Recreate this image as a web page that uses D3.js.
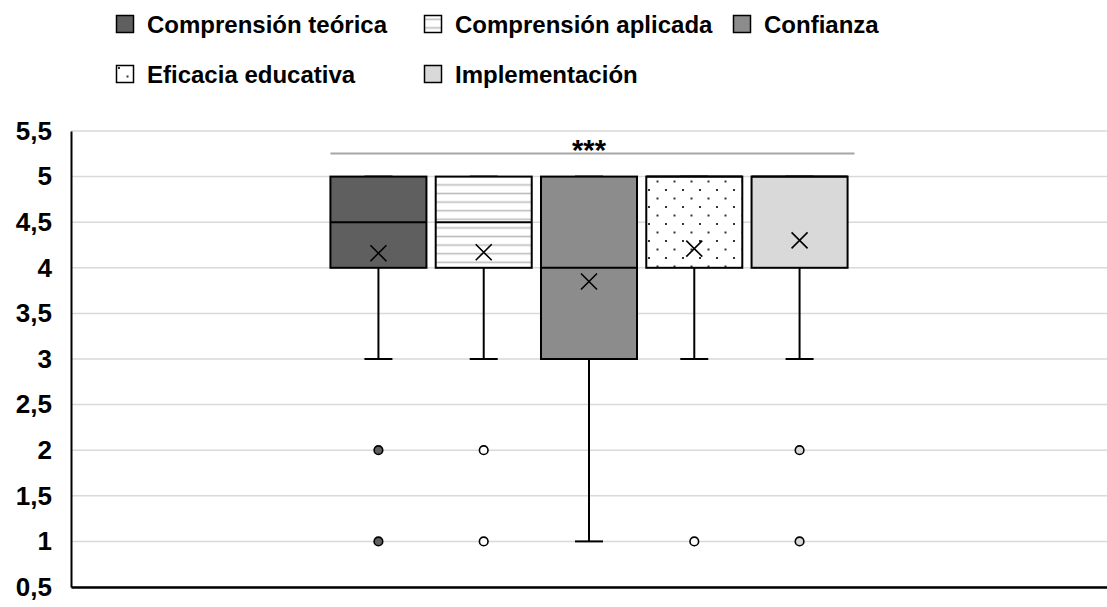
<!DOCTYPE html>
<html>
<head>
<meta charset="utf-8">
<script src="https://cdn.jsdelivr.net/npm/d3@7"></script>
<style>
  html, body { margin: 0; padding: 0; background: #fff; }
  svg { display: block; font-family: "Liberation Sans", Arial, sans-serif; }
</style>
</head>
<body>
<svg id="chart" width="1107" height="607"></svg>
<script>
// ---- data ----
const groups = ["Grupo"];
const series = ["Comprensión teórica", "Comprensión aplicada", "Confianza", "Eficacia educativa", "Implementación"];
const q1 = [4, 4, 3, 4, 4];
const medians = [4.5, 4.5, 4, 5, 5];
const q3 = [5, 5, 5, 5, 5];
const whiskerLow = [3, 3, 1, 3, 3];
const whiskerHigh = [5, 5, 5, 5, 5];
const means = [4.16, 4.17, 3.85, 4.21, 4.30];
const outliers = [[2, 1], [2, 1], [], [1], [2, 1]];
const yTicks = [0.5, 1, 1.5, 2, 2.5, 3, 3.5, 4, 4.5, 5, 5.5];
const yTickLabels = ["0,5", "1", "1,5", "2", "2,5", "3", "3,5", "4", "4,5", "5", "5,5"];
const significanceLabel = "***";

// ---- styles ----
const fills = ["#5f5f5f", "url(#stripes)", "#8c8c8c", "url(#dots)", "#d9d9d9"];
const outlierFills = ["#5f5f5f", "#ffffff", "#8c8c8c", "#ffffff", "#d9d9d9"];

const svg = d3.select("#chart");
const mLeft = 71, mRight = 1107, mTop = 131, mBottom = 587;

// patterns
const defs = svg.append("defs");
const pS = defs.append("pattern").attr("id", "stripes").attr("patternUnits", "userSpaceOnUse")
  .attr("width", 8.6).attr("height", 8.6);
pS.append("rect").attr("width", 8.6).attr("height", 8.6).attr("fill", "#fff");
pS.append("line").attr("x1", 0).attr("x2", 8.6).attr("y1", 4.3).attr("y2", 4.3)
  .attr("stroke", "#bdbdbd").attr("stroke-width", 1.6);
const pD = defs.append("pattern").attr("id", "dots").attr("patternUnits", "userSpaceOnUse")
  .attr("width", 17).attr("height", 17);
pD.append("rect").attr("width", 17).attr("height", 17).attr("fill", "#fff");
pD.append("rect").attr("x", 2).attr("y", 2).attr("width", 2).attr("height", 2).attr("fill", "#333");
pD.append("rect").attr("x", 10.5).attr("y", 10.5).attr("width", 2).attr("height", 2).attr("fill", "#333");

// scales
const y = d3.scaleLinear().domain([0.5, 5.5]).range([mBottom, mTop]);
const x0 = d3.scaleBand().domain(groups).range([mLeft, mRight]).paddingInner(0).paddingOuter(0.484);
const x1 = d3.scaleBand().domain(series).range([x0(groups[0]), x0(groups[0]) + x0.bandwidth()])
  .paddingInner(0.088).paddingOuter(0.044);
const bw = x1.bandwidth();

// gridlines
svg.append("g").selectAll("line").data(yTicks).join("line")
  .attr("x1", mLeft).attr("x2", mRight)
  .attr("y1", d => y(d)).attr("y2", d => y(d))
  .attr("stroke", "#d9d9d9").attr("stroke-width", 1.5);

// y axis
const yAxis = d3.axisLeft(y).tickValues(yTicks).tickFormat((d, i) => yTickLabels[i]).tickSize(0).tickPadding(19);
const gy = svg.append("g").attr("transform", `translate(${mLeft},0)`).call(yAxis);
gy.select(".domain").attr("stroke", "#000").attr("stroke-width", 2);
gy.selectAll("text").attr("font-size", 26).attr("font-weight", "bold").attr("fill", "#000")
  .attr("font-family", "'Liberation Sans', Arial, sans-serif");

// x axis (bottom line)
const xAxis = d3.axisBottom(x0).tickSize(0).tickFormat("");
const gx = svg.append("g").attr("transform", `translate(0,${mBottom})`).call(xAxis);
gx.select(".domain").attr("stroke", "#000").attr("stroke-width", 2.5);

// boxes
const data = series.map((s, i) => ({
  name: s, q1: q1[i], med: medians[i], q3: q3[i], lo: whiskerLow[i], hi: whiskerHigh[i],
  mean: means[i], out: outliers[i], fill: fills[i], ofill: outlierFills[i]
}));
const gb = svg.append("g").selectAll("g").data(data).join("g");
const cx = d => x1(d.name) + bw / 2;
// whiskers
gb.append("line").attr("x1", cx).attr("x2", cx).attr("y1", d => y(d.lo)).attr("y2", d => y(d.q1))
  .attr("stroke", "#000").attr("stroke-width", 2);
gb.append("line").attr("x1", cx).attr("x2", cx).attr("y1", d => y(d.hi)).attr("y2", d => y(d.q3))
  .attr("stroke", "#000").attr("stroke-width", 2);
gb.append("line").attr("x1", d => cx(d) - 14).attr("x2", d => cx(d) + 14)
  .attr("y1", d => y(d.lo)).attr("y2", d => y(d.lo)).attr("stroke", "#000").attr("stroke-width", 2);
gb.append("line").attr("x1", d => cx(d) - 14).attr("x2", d => cx(d) + 14)
  .attr("y1", d => y(d.hi)).attr("y2", d => y(d.hi)).attr("stroke", "#000").attr("stroke-width", 2);
// box
gb.append("rect").attr("x", d => x1(d.name)).attr("width", bw)
  .attr("y", d => y(d.q3)).attr("height", d => y(d.q1) - y(d.q3))
  .attr("fill", d => d.fill).attr("stroke", "#000").attr("stroke-width", 2);
// median
gb.append("line").attr("x1", d => x1(d.name)).attr("x2", d => x1(d.name) + bw)
  .attr("y1", d => y(d.med)).attr("y2", d => y(d.med)).attr("stroke", "#000").attr("stroke-width", 2);
// mean X
const ms = 8;
gb.append("path").attr("d", d => {
  const X = cx(d), Y = y(d.mean);
  return `M${X - ms},${Y - ms}L${X + ms},${Y + ms}M${X - ms},${Y + ms}L${X + ms},${Y - ms}`;
}).attr("stroke", "#000").attr("stroke-width", 1.6).attr("fill", "none");
// outliers
gb.each(function (d) {
  d3.select(this).selectAll("circle").data(d.out).join("circle")
    .attr("cx", cx(d)).attr("cy", v => y(v)).attr("r", 4.3)
    .attr("fill", d.ofill).attr("stroke", "#000").attr("stroke-width", 1.6);
});

// significance bracket
const sx1 = x1(series[0]), sx2 = x1(series[series.length - 1]) + bw + 7;
const sy = 153.5;
svg.append("line").attr("x1", sx1).attr("x2", sx2).attr("y1", sy).attr("y2", sy)
  .attr("stroke", "#a6a6a6").attr("stroke-width", 2);
svg.append("text").attr("x", x0(groups[0]) + x0.bandwidth() / 2).attr("y", 160)
  .attr("text-anchor", "middle").attr("font-size", 29).attr("font-weight", "bold").attr("fill", "#000")
  .text(significanceLabel);

// legend
const legPos = [[116, 15], [424, 15], [733, 15], [116, 65], [424, 65]];
const gl = svg.append("g").selectAll("g").data(data).join("g")
  .attr("transform", (d, i) => `translate(${legPos[i][0]},${legPos[i][1]})`);
gl.append("rect").attr("width", 17).attr("height", 17).attr("x", 0.5).attr("y", 0.5)
  .attr("fill", d => d.fill).attr("stroke", "#000").attr("stroke-width", 1.5);
gl.append("text").attr("x", 31).attr("y", 17.5).attr("font-size", 24).attr("font-weight", "bold")
  .attr("fill", "#000").text(d => d.name);
</script>
</body>
</html>
